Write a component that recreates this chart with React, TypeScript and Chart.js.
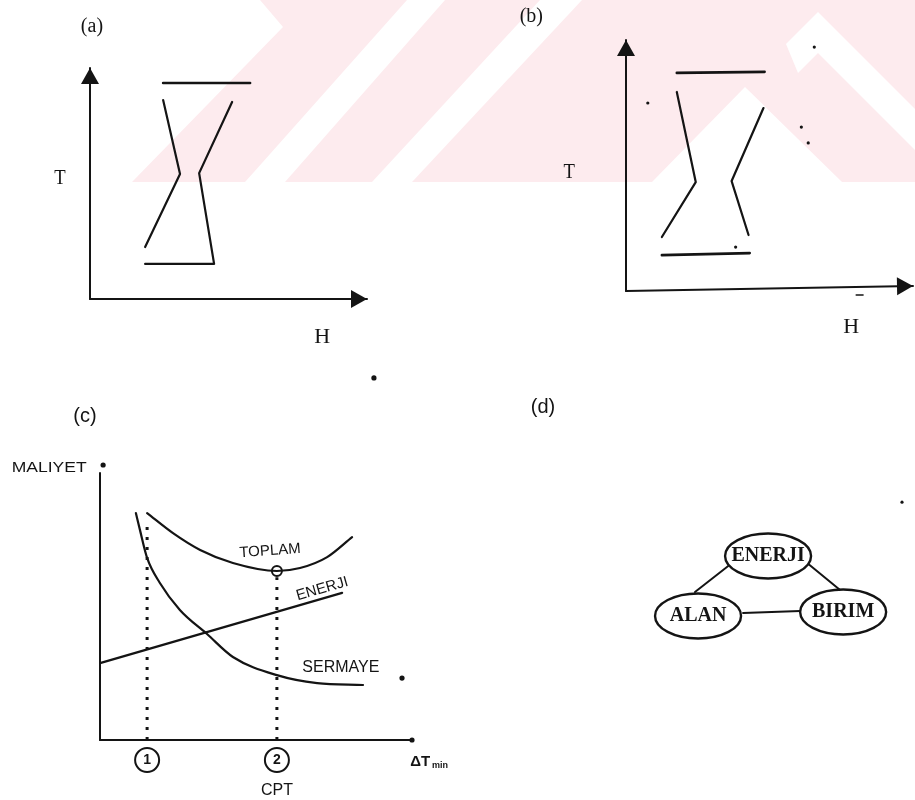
import React, { useEffect, useRef } from "react";
import { Chart, registerables } from "chart.js";

Chart.register(...registerables);

type P = [number, number];

// ---------- Panel (a): T–H composite curves ----------
const A_AXIS_T: P[] = [[0, 0], [0, 10]];
const A_AXIS_H: P[] = [[0, 0], [10, 0]];
const A_TOP: P[] = [[2.64, 9.35], [5.78, 9.35]];
const A_LEFT: P[] = [[2.64, 8.61], [3.25, 5.41], [1.99, 2.25]];
const A_RIGHT: P[] = [[5.13, 8.53], [3.94, 5.45], [4.48, 1.52], [1.99, 1.52]];

// ---------- Panel (b): T–H composite curves ----------
const B_AXIS_T: P[] = [[0, 0], [0, 10]];
const B_AXIS_H: P[] = [[0, 0], [10, 0.2]];
const B_TOP: P[] = [[1.77, 8.69], [4.83, 8.73]];
const B_LEFT: P[] = [[1.77, 7.93], [2.43, 4.34], [1.25, 2.15]];
const B_RIGHT: P[] = [[4.79, 7.29], [3.68, 4.38], [4.27, 2.23]];
const B_BOTTOM: P[] = [[1.25, 1.43], [4.31, 1.51]];
const B_SPECKS: P[] = [[0.76, 7.49], [6.56, 9.72], [6.11, 6.53], [6.35, 5.9], [3.82, 1.75]];
const B_DASH: P[] = [[8.02, -0.16], [8.26, -0.16]];

// ---------- Panel (c): cost vs ΔTmin ----------
const C_AXIS_COST: P[] = [[0, 0], [0, 10]];
const C_AXIS_DT: P[] = [[0, 0], [10, 0]];
const C_TOTAL: P[] = [
  [1.51, 8.5], [2.34, 7.75], [3.21, 7.12], [4.26, 6.63],
  [5.67, 6.33], [6.41, 6.44], [7.28, 6.85], [8.08, 7.6],
];
const C_CAPITAL: P[] = [
  [1.15, 8.5], [1.28, 7.87], [1.51, 6.82], [1.92, 5.88], [2.56, 4.87],
  [3.43, 3.97], [4.26, 3.11], [5.67, 2.43], [6.96, 2.13], [8.43, 2.06],
];
const C_ENERGY: P[] = [[0, 2.88], [7.76, 5.51]];
const C_POINT_1: P[] = [[1.51, 0], [1.51, 7.98]];
const C_POINT_2: P[] = [[5.67, 0], [5.67, 6.1]];
const C_MINIMUM: P[] = [[5.67, 6.33]];
const C_MARKS: P[] = [[1.51, -0.75], [5.67, -0.75]];
const C_MARK_LABELS = ["1", "2"];
const C_SPECKS: P[] = [[0.1, 10.3], [10, 0], [9.68, 2.32], [8.78, 13.56]];

// ---------- Panel (d): energy / area / units triangle ----------
const D_NODE_NAMES = ["ENERJI", "ALAN", "BIRIM"];
const D_NODES: P[] = [[4.89, 8.22], [1.0, 1.56], [9.06, 2.0]];
const D_EDGE_EA: P[] = [[0.83, 4.22], [2.89, 7.44]];
const D_EDGE_EB: P[] = [[7.06, 7.44], [8.89, 4.44]];
const D_EDGE_AB: P[] = [[3.5, 1.89], [6.67, 2.11]];
const D_SPECKS: P[] = [[12.33, 14.2]];

const INK = "#141414";
const PINK = "#fdebee";
const SERIF = '"Liberation Serif", "DejaVu Serif", serif';
const SANS = '"Liberation Sans", "DejaVu Sans", sans-serif';

type Note = {
  text: string; x: number; y: number; font: string;
  rotate?: number; sx?: number; align?: CanvasTextAlign;
};

const toXY = (pts: P[]) => pts.map(([x, y]) => ({ x, y }));

const line = (pts: P[], extra: any = {}) => ({
  data: toXY(pts),
  showLine: true,
  borderColor: INK,
  backgroundColor: INK,
  borderWidth: 2.2,
  pointRadius: 0,
  pointHoverRadius: 0,
  tension: 0,
  clip: false,
  borderCapStyle: "round",
  borderJoinStyle: "round",
  ...extra,
});

const dots = (pts: P[], r: number, extra: any = {}) => ({
  data: toXY(pts),
  showLine: false,
  pointRadius: r,
  pointHoverRadius: r,
  pointBackgroundColor: INK,
  pointBorderColor: INK,
  pointBorderWidth: 0,
  clip: false,
  ...extra,
});

const arrowPlugin = {
  id: "arrowHeads",
  afterDatasetsDraw(chart: any) {
    const ctx = chart.ctx;
    chart.data.datasets.forEach((ds: any, i: number) => {
      if (!ds.arrow) return;
      const pts = chart.getDatasetMeta(i).data;
      const p1 = pts[pts.length - 2];
      const p2 = pts[pts.length - 1];
      const ang = Math.atan2(p2.y - p1.y, p2.x - p1.x);
      const { length, width } = ds.arrow;
      ctx.save();
      ctx.translate(p2.x, p2.y);
      ctx.rotate(ang);
      ctx.beginPath();
      ctx.moveTo(0, 0);
      ctx.lineTo(-length, -width / 2);
      ctx.lineTo(-length, width / 2);
      ctx.closePath();
      ctx.fillStyle = INK;
      ctx.fill();
      ctx.restore();
    });
  },
};

const notesPlugin = (notes: Note[]) => ({
  id: "notes",
  afterDraw(chart: any) {
    const { ctx, scales } = chart;
    notes.forEach((n) => {
      const px = scales.x.getPixelForValue(n.x);
      const py = scales.y.getPixelForValue(n.y);
      ctx.save();
      ctx.translate(px, py);
      if (n.rotate) ctx.rotate((n.rotate * Math.PI) / 180);
      if (n.sx) ctx.scale(n.sx, 1);
      ctx.font = n.font;
      ctx.fillStyle = INK;
      ctx.textAlign = n.align || "center";
      ctx.textBaseline = "middle";
      ctx.fillText(n.text, 0, 0);
      ctx.restore();
    });
  },
});

const nodesPlugin = (names: string[]) => ({
  id: "nodeEllipses",
  afterDatasetsDraw(chart: any) {
    const idx = chart.data.datasets.findIndex((d: any) => d.nodeSet);
    if (idx < 0) return;
    const ctx = chart.ctx;
    chart.getDatasetMeta(idx).data.forEach((el: any, i: number) => {
      ctx.save();
      ctx.beginPath();
      ctx.ellipse(el.x, el.y, 43, 22.5, 0, 0, Math.PI * 2);
      ctx.fillStyle = "#fff";
      ctx.fill();
      ctx.lineWidth = 2.4;
      ctx.strokeStyle = INK;
      ctx.stroke();
      ctx.font = `bold 20px ${SERIF}`;
      ctx.fillStyle = INK;
      ctx.textAlign = "center";
      ctx.textBaseline = "middle";
      ctx.fillText(names[i], el.x, el.y);
      ctx.restore();
    });
  },
});

function build(
  canvas: HTMLCanvasElement,
  datasets: any[],
  padding: { left: number; right: number; top: number; bottom: number },
  x: [number, number],
  y: [number, number],
  plugins: any[]
) {
  return new Chart(canvas, {
    type: "scatter",
    data: { datasets },
    options: {
      responsive: false,
      maintainAspectRatio: false,
      animation: false,
      events: [],
      layout: { padding },
      plugins: {
        legend: { display: false },
        tooltip: { enabled: false },
        title: { display: false },
      },
      scales: {
        x: { type: "linear", display: false, min: x[0], max: x[1] },
        y: { type: "linear", display: false, min: y[0], max: y[1] },
      },
    } as any,
    plugins,
  } as any);
}

const ARROW = { length: 16, width: 18 };

const PANELS = [
  {
    key: "a", left: 0, top: 0, width: 457, height: 370,
    make: (c: HTMLCanvasElement) =>
      build(
        c,
        [
          line(A_AXIS_T, { borderWidth: 2, arrow: ARROW }),
          line(A_AXIS_H, { borderWidth: 2, arrow: ARROW }),
          line(A_TOP, { borderWidth: 2.6 }),
          line(A_LEFT),
          line(A_RIGHT),
        ],
        { left: 90, right: 90, top: 68, bottom: 71 },
        [0, 10], [0, 10],
        [
          arrowPlugin,
          notesPlugin([
            { text: "(a)", x: 0.07, y: 11.77, font: `20px ${SERIF}` },
            { text: "T", x: -1.08, y: 5.24, font: `22px ${SERIF}`, sx: 0.85 },
            { text: "H", x: 8.38, y: -1.65, font: `22px ${SERIF}` },
          ]),
        ]
      ),
  },
  {
    key: "b", left: 457, top: 0, width: 458, height: 370,
    make: (c: HTMLCanvasElement) =>
      build(
        c,
        [
          line(B_AXIS_T, { borderWidth: 2, arrow: ARROW }),
          line(B_AXIS_H, { borderWidth: 2, arrow: ARROW }),
          line(B_TOP, { borderWidth: 2.6 }),
          line(B_LEFT),
          line(B_RIGHT),
          line(B_BOTTOM, { borderWidth: 2.6 }),
          line(B_DASH, { borderWidth: 1.5 }),
          dots(B_SPECKS, 1.6),
        ],
        { left: 169, right: 2, top: 40, bottom: 79 },
        [0, 10], [0, 10],
        [
          arrowPlugin,
          notesPlugin([
            { text: "(b)", x: -3.3, y: 10.92, font: `20px ${SERIF}` },
            { text: "T", x: -1.98, y: 4.74, font: `22px ${SERIF}`, sx: 0.85 },
            { text: "H", x: 7.85, y: -1.43, font: `22px ${SERIF}` },
          ]),
        ]
      ),
  },
  {
    key: "c", left: 0, top: 350, width: 470, height: 450,
    make: (c: HTMLCanvasElement) =>
      build(
        c,
        [
          line(C_AXIS_COST, { borderWidth: 2 }),
          line(C_AXIS_DT, { borderWidth: 2.2 }),
          line(C_POINT_1, { borderWidth: 3, borderDash: [3, 7], borderCapStyle: "butt" }),
          line(C_POINT_2, { borderWidth: 3, borderDash: [3, 7], borderCapStyle: "butt" }),
          line(C_TOTAL, { cubicInterpolationMode: "monotone" }),
          line(C_CAPITAL, { cubicInterpolationMode: "monotone" }),
          line(C_ENERGY),
          dots(C_MINIMUM, 5, {
            pointBackgroundColor: "rgba(0,0,0,0)",
            pointBorderWidth: 2,
          }),
          dots(C_MARKS, 12, {
            pointBackgroundColor: "#fff",
            pointBorderWidth: 2,
          }),
          dots(C_SPECKS, 2.6),
        ],
        { left: 100, right: 58, top: 16.2, bottom: 14.6 },
        [0, 10], [-1.7, 14],
        [
          notesPlugin([
            { text: "(c)", x: -0.48, y: 12.1, font: `20px ${SANS}` },
            { text: "MALIYET", x: -1.63, y: 10.19, font: `14px ${SANS}`, sx: 1.25 },
            { text: "TOPLAM", x: 5.45, y: 7.08, font: `15px ${SANS}`, rotate: -4 },
            { text: "ENERJI", x: 7.12, y: 5.66, font: `15px ${SANS}`, rotate: -16 },
            { text: "SERMAYE", x: 7.72, y: 2.7, font: `16px ${SANS}` },
            { text: C_MARK_LABELS[0], x: C_MARKS[0][0], y: C_MARKS[0][1], font: `bold 14px ${SANS}` },
            { text: C_MARK_LABELS[1], x: C_MARKS[1][0], y: C_MARKS[1][1], font: `bold 14px ${SANS}` },
            { text: "CPT", x: 5.67, y: -1.91, font: `16px ${SANS}` },
            { text: "ΔT", x: 9.94, y: -0.82, font: `bold 15px ${SANS}`, align: "left" },
            { text: "min", x: 10.64, y: -0.97, font: `bold 9px ${SANS}`, align: "left" },
          ]),
        ]
      ),
  },
  {
    key: "d", left: 470, top: 370, width: 445, height: 430,
    make: (c: HTMLCanvasElement) =>
      build(
        c,
        [
          line(D_EDGE_EA, { borderWidth: 2 }),
          line(D_EDGE_EB, { borderWidth: 2 }),
          line(D_EDGE_AB, { borderWidth: 2 }),
          dots(D_NODES, 0, { nodeSet: true }),
          dots(D_SPECKS, 1.6),
        ],
        { left: 12, right: 2, top: 35, bottom: 8 },
        [-11, 12.94], [-18, 25],
        [
          nodesPlugin(D_NODE_NAMES),
          notesPlugin([{ text: "(d)", x: -7.61, y: 24.67, font: `20px ${SANS}` }]),
        ]
      ),
  },
];

function Panel({ left, top, width, height, make }: any) {
  const ref = useRef<HTMLCanvasElement>(null);
  useEffect(() => {
    const chart = make(ref.current!);
    return () => chart.destroy();
  }, []);
  return (
    <canvas
      ref={ref}
      width={width}
      height={height}
      style={{ position: "absolute", left, top, width, height, display: "block" }}
    />
  );
}

export default function App() {
  return (
    <div
      style={{
        position: "absolute",
        left: 0,
        top: 0,
        width: 915,
        height: 800,
        background: "#fff",
        overflow: "hidden",
      }}
    >
      <svg width={915} height={182} style={{ position: "absolute", left: 0, top: 0 }}>
        <rect x={0} y={0} width={915} height={182} fill={PINK} />
        <polygon points="0,0 260,0 283,27 132,182 0,182" fill="#fff" />
        <polygon points="407,0 445,0 285,182 245,182" fill="#fff" />
        <polygon points="540,0 582,0 412,182 372,182" fill="#fff" />
        <polygon points="745,87 652,182 842,182" fill="#fff" />
        <polygon points="786,44 818,12 915,109 915,150 818,53 798,73" fill="#fff" />
      </svg>
      {PANELS.map((p) => (
        <Panel key={p.key} {...p} />
      ))}
    </div>
  );
}
